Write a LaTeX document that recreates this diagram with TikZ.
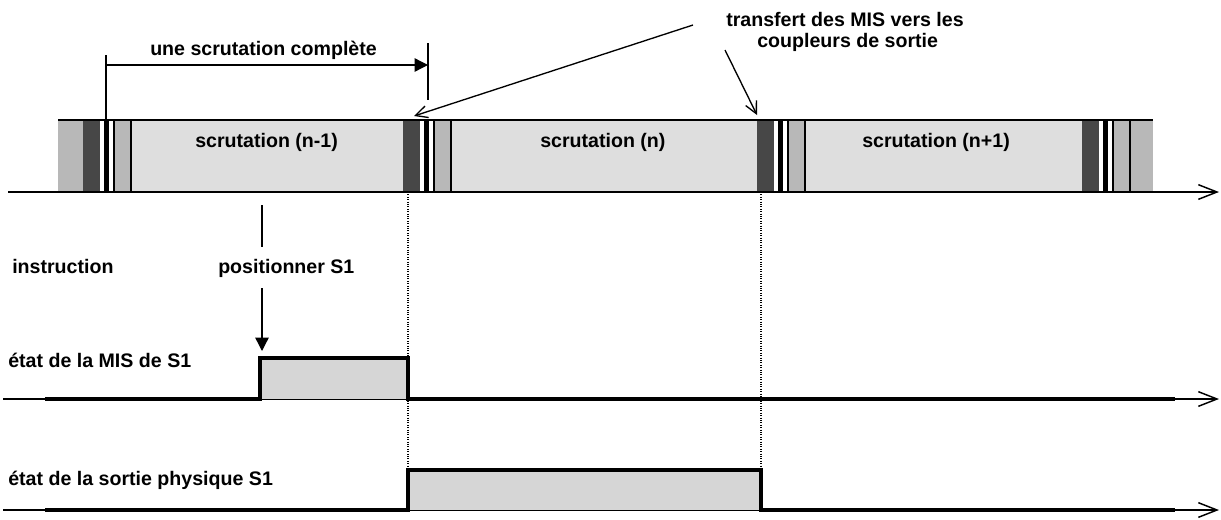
\documentclass[tikz,border=0pt]{standalone}
\usepackage{fontspec}
\newfontfamily\lab{Liberation Sans Bold}
\usetikzlibrary{arrows.meta}
\definecolor{bandlight}{gray}{0.87}
\definecolor{bandmed}{gray}{0.72}
\definecolor{banddark}{gray}{0.28}
\definecolor{pulsefill}{gray}{0.84}
\begin{document}
\begin{tikzpicture}[x=0.75pt,y=-0.75pt,
  lbl/.style={font=\lab\fontsize{14.7}{17}\selectfont, inner sep=0pt, anchor=base west},
  axisline/.style={line width=0.9pt, -{Straight Barb[length=14pt,width=11pt,line width=1.1pt]}},
  sigline/.style={line width=3.4pt, line join=miter, line cap=butt},
  thin/.style={line width=0.8pt},
  guide/.style={densely dotted, line width=0.8pt},
  pointer/.style={line width=1pt, -{Straight Barb[length=9pt,width=9pt,line width=1pt]}},
  solidtip/.style={line width=1pt, -{Triangle[length=10pt,width=10pt]}}]
\useasboundingbox (0,0) rectangle (1221,519);

% --- band of scans
\fill[bandlight] (58,120) rectangle (1153,192);
\fill[bandmed] (58,120) rectangle (83,192);
\fill[bandmed] (1130,120) rectangle (1153,192);
\foreach \s in {83,403,757,1082}{
  \fill[banddark] (\s,120) rectangle (\s+17,192);
  \fill[white] (\s+17,120) rectangle (\s+21,192);
  \fill[black] (\s+21,120) rectangle (\s+26,192);
  \fill[white] (\s+26,120) rectangle (\s+31,192);
  \fill[bandmed] (\s+31,120) rectangle (\s+48,192);
  \draw[thin] (\s+31,120) -- (\s+31,192);
  \draw[thin] (\s+48,120) -- (\s+48,192);
}
\draw[thin] (58,120) -- (1153,120);

\node[lbl] (s1) at (195,147) {scrutation (n-1)};
\node[lbl] (s2) at (540,147) {scrutation (n)};
\node[lbl] (s3) at (862,147) {scrutation (n+1)};

% --- axes
\coordinate (a0s) at (8,192);  \coordinate (a0e) at (1219,192);
\coordinate (a1s) at (3,399);  \coordinate (a1e) at (1219,399);
\coordinate (a2s) at (3,510);  \coordinate (a2e) at (1219,510);
\draw[axisline] (a0s) -- (a0e);
\draw[axisline] (a1s) -- (a1e);
\draw[axisline] (a2s) -- (a2e);

% --- pulses
\coordinate (m0) at (45,399);  \coordinate (m1) at (260,399);
\coordinate (m2) at (260,358); \coordinate (m3) at (408,358);
\coordinate (m4) at (408,399); \coordinate (m5) at (1175,399);
\fill[pulsefill] (m2) rectangle (m4);
\draw[sigline] (m0) -- (m1) -- (m2) -- (m3) -- (m4) -- (m5);

\coordinate (p0) at (45,510);  \coordinate (p1) at (408,510);
\coordinate (p2) at (408,470); \coordinate (p3) at (761,470);
\coordinate (p4) at (761,510); \coordinate (p5) at (1175,510);
\fill[pulsefill] (p2) rectangle (p4);
\draw[sigline] (p0) -- (p1) -- (p2) -- (p3) -- (p4) -- (p5);

% --- guides
\coordinate (g1) at (408,192); \coordinate (g2) at (761,192);
\draw[guide] (g1) -- (p2);
\draw[guide] (g2) -- (p3);

% --- scan duration
\coordinate (d1t) at (106,55);  \coordinate (d1b) at (106,120);
\coordinate (d2t) at (428,43);  \coordinate (d2b) at (428,100);
\coordinate (d1) at (106,65);   \coordinate (d2) at (428,65);
\draw[thin] (d1t) -- (d1b);
\draw[thin] (d2t) -- (d2b);
\draw[solidtip] (d1) -- (d2);
\node[lbl] (dur) at (150,55) {une scrutation complète};

% --- transfer
\node[lbl] (tr1) at (726,26) {transfert des MIS vers les};
\node[lbl] (tr2) at (757,47) {coupleurs de sortie};
\coordinate (t1s) at (693,25);  \coordinate (t1e) at (414,116);
\coordinate (t2s) at (725,50);  \coordinate (t2e) at (757,115);
\draw[pointer] (t1s) -- (t1e);
\draw[pointer] (t2s) -- (t2e);

% --- instruction
\node[lbl] (ins) at (12,273) {instruction};
\node[lbl] (pos) at (218,273) {positionner S1};
\coordinate (v1) at (262,205); \coordinate (v2) at (262,247);
\coordinate (v3) at (262,288); \coordinate (v4) at (262,351);
\draw[thin,line width=1pt] (v1) -- (v2);
\draw[solidtip] (v3) -- (v4);

\node[lbl] (mis) at (8,367) {état de la MIS de S1};
\node[lbl] (out) at (8,485) {état de la sortie physique S1};
\end{tikzpicture}
\end{document}
